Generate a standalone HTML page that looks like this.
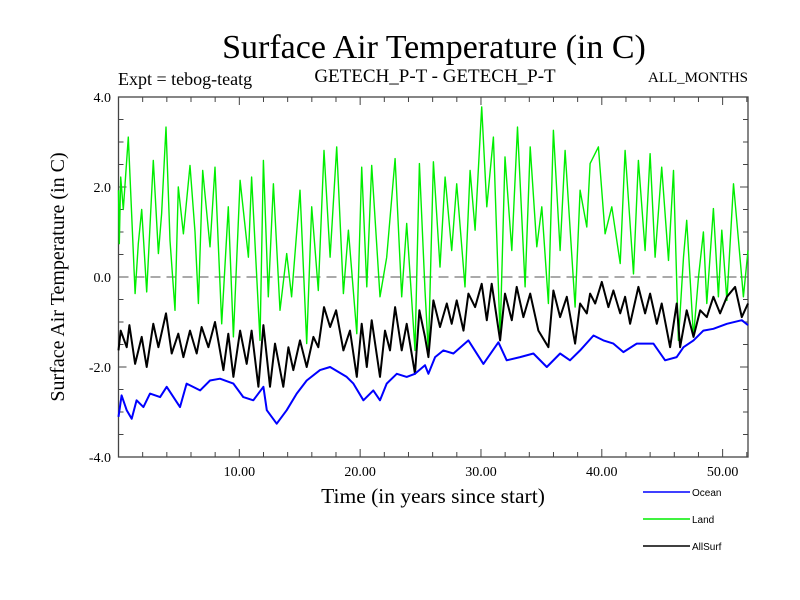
<!DOCTYPE html>
<html><head><meta charset="utf-8"><style>
body{margin:0;background:#fff;}
svg{display:block;font-family:"Liberation Serif",serif;}
</style></head><body>
<svg id="chart" width="800" height="600" xmlns="http://www.w3.org/2000/svg">
<text x="434" y="58" font-size="34" text-anchor="middle">Surface Air Temperature (in C)</text>
<text x="118" y="85" font-size="18">Expt = tebog-teatg</text>
<text x="435" y="82" font-size="19" text-anchor="middle">GETECH_P-T - GETECH_P-T</text>
<text x="748" y="82" font-size="15" text-anchor="end">ALL_MONTHS</text>
<text transform="translate(64,277) rotate(-90)" font-size="20" text-anchor="middle">Surface Air Temperature (in C)</text>
<text x="433" y="503" font-size="21.5" text-anchor="middle">Time (in years since start)</text>
<g id="axes"></g>
<g id="series"></g>
<g id="legend"></g>
</svg>
<script>
const oceanT=[0,0.26,0.68,1.09,1.5,2.06,2.61,3.44,3.99,5.09,5.64,6.75,7.57,8.4,9.51,10.33,11.16,11.99,12.27,13.09,13.92,14.75,15.58,16.68,17.51,18.89,19.44,20.27,21.09,21.64,22.2,23.03,23.85,24.54,25.37,25.65,26.2,26.89,27.72,28.96,30.2,31.44,32.13,33.24,34.34,35.45,36.55,37.37,38.2,39.31,40.13,40.96,41.79,42.9,44.27,45.24,46.2,46.76,47.59,48.41,49.24,50.35,51.59,52.1];
const oceanV=[-3.11,-2.63,-2.96,-3.15,-2.74,-2.89,-2.59,-2.67,-2.44,-2.89,-2.37,-2.52,-2.3,-2.26,-2.37,-2.67,-2.74,-2.44,-2.96,-3.26,-2.96,-2.59,-2.3,-2.07,-2.0,-2.22,-2.37,-2.74,-2.52,-2.74,-2.37,-2.15,-2.22,-2.15,-1.96,-2.15,-1.78,-1.63,-1.7,-1.41,-1.93,-1.45,-1.85,-1.78,-1.7,-2.0,-1.7,-1.85,-1.63,-1.3,-1.41,-1.48,-1.67,-1.48,-1.48,-1.85,-1.78,-1.56,-1.41,-1.19,-1.15,-1.04,-0.96,-1.07];
const landT=[0,0.07,0.18,0.4,0.81,1.37,1.64,1.92,2.33,2.88,3.3,3.57,3.93,4.26,4.68,4.95,5.37,5.92,6.33,6.61,6.97,7.57,7.99,8.54,9.09,9.51,10.06,10.75,11.02,11.71,11.99,12.4,12.82,13.37,13.92,14.33,15.02,15.58,15.99,16.54,17.01,17.51,18.06,18.61,19.03,19.72,20.13,20.55,20.96,21.64,22.2,22.89,23.44,23.85,24.54,24.9,25.37,25.65,26.06,26.61,27.03,27.58,27.99,28.68,29.1,29.51,30.06,30.48,31.03,31.58,31.99,32.55,33.02,33.65,34.07,34.62,35.03,35.58,35.99,36.55,36.96,37.79,38.2,38.76,39.03,39.72,40.27,40.83,41.52,41.93,42.62,43.03,43.58,44.0,44.41,44.96,45.52,45.93,46.34,46.76,47.03,47.59,48.0,48.41,48.69,49.24,49.65,49.93,50.35,50.9,51.31,51.72,52.1];
const landV=[1.93,0.74,2.22,1.5,3.11,-0.37,0.74,1.5,-0.33,2.59,0.52,1.4,3.33,0.81,-0.74,2.0,0.96,2.48,1.0,-0.59,2.37,0.67,2.44,-1.04,1.56,-1.33,2.15,0.44,2.22,-1.41,2.59,-0.44,2.07,-0.74,0.52,-0.44,1.93,-1.48,1.56,-0.3,2.81,0.44,2.89,-0.37,1.04,-1.26,2.44,-0.22,2.48,-0.44,0.44,2.63,-0.44,1.19,-1.63,2.52,-0.3,-1.7,2.56,0.22,2.22,0.59,2.07,-0.22,2.37,1.04,3.78,1.56,3.11,-1.33,2.67,0.59,3.33,-0.22,2.89,0.67,1.56,-0.59,3.26,0.59,2.81,-0.67,1.93,1.11,2.52,2.89,0.96,1.56,0.3,2.81,0.07,2.59,0.59,2.74,0.44,2.44,0.37,2.37,-1.41,0.44,1.26,-1.33,0.0,1.0,-0.59,1.52,-0.44,1.04,-0.52,2.07,0.81,-0.44,0.59];
const allT=[0,0.18,0.68,0.9,1.37,1.92,2.33,2.88,3.3,3.93,4.4,4.95,5.37,5.92,6.47,6.88,7.44,7.99,8.68,9.09,9.51,10.06,10.61,11.02,11.58,11.99,12.54,12.95,13.64,14.06,14.47,15.02,15.58,16.13,16.54,17.01,17.51,18.01,18.61,19.16,19.72,20.13,20.55,20.96,21.64,22.06,22.47,22.89,23.44,23.85,24.54,24.9,25.37,25.65,26.06,26.61,27.17,27.58,27.99,28.55,28.96,29.51,30.06,30.48,30.89,31.58,31.99,32.55,32.96,33.51,34.07,34.75,35.58,35.99,36.55,37.1,37.79,38.2,38.76,39.03,39.45,40.0,40.55,40.96,41.52,41.93,42.34,43.03,43.58,44.0,44.55,44.96,45.65,46.2,46.48,47.03,47.59,48.14,48.69,49.24,49.79,50.35,51.03,51.59,52.1];
const allV=[-1.63,-1.19,-1.56,-1.07,-1.93,-1.33,-2.0,-1.04,-1.56,-0.81,-1.7,-1.26,-1.78,-1.19,-1.7,-1.11,-1.56,-1.0,-2.07,-1.26,-2.22,-1.19,-1.93,-1.19,-2.44,-1.07,-2.44,-1.48,-2.44,-1.56,-2.07,-1.41,-2.0,-1.33,-1.56,-0.67,-1.11,-0.74,-1.63,-1.19,-2.22,-1.04,-2.0,-0.96,-2.22,-1.19,-1.63,-0.67,-1.63,-1.04,-2.15,-0.74,-1.33,-1.78,-0.52,-1.11,-0.59,-1.04,-0.52,-1.19,-0.37,-0.67,-0.15,-0.96,-0.15,-1.41,-0.37,-0.96,-0.22,-0.89,-0.37,-1.19,-1.56,-0.3,-0.89,-0.44,-1.48,-0.59,-0.81,-0.37,-0.59,-0.11,-0.67,-0.3,-0.81,-0.44,-1.04,-0.22,-0.81,-0.37,-1.04,-0.59,-1.56,-0.59,-1.56,-0.74,-1.33,-0.74,-0.89,-0.44,-0.81,-0.44,-0.22,-0.89,-0.59];
const xTickLabels=["10.00","20.00","30.00","40.00","50.00"];
const yTickLabels=["-4.0","-2.0","0.0","2.0","4.0"];

const L=118.5,R=748,T=97,B=457,X0=0,X1=52.1,Y0=-4,Y1=4;
const xs=v=>L+(v-X0)/(X1-X0)*(R-L);
const ys=v=>B-(v-Y0)/(Y1-Y0)*(B-T);
const NS="http://www.w3.org/2000/svg";
function mk(tag,attrs,parent){const e=document.createElementNS(NS,tag);for(const k in attrs)e.setAttribute(k,attrs[k]);parent.appendChild(e);return e;}
const ax=document.getElementById('axes');
const frame=mk('rect',{x:L,y:T,width:R-L,height:B-T,fill:'none',stroke:'#444','stroke-width':1.3},ax);


let td='';
for(let t=2;t<X1;t+=2){const x=xs(t);const len=(t%10===0)?8:5;td+=`M${x},${B}v${-len}M${x},${T}v${len}`;}
for(let v=-3.5;v<4;v+=0.5){const y=ys(v);const len=(v%2===0)?8:5;td+=`M${L},${y}h${len}M${R},${y}h${-len}`;}
const ticks=mk('path',{d:td,stroke:'#444','stroke-width':1,fill:'none'},ax);


xTickLabels.forEach(s=>{const t=mk('text',{x:xs(parseFloat(s)),y:476,'font-size':14,'text-anchor':'middle'},ax);t.textContent=s;

});
yTickLabels.forEach(s=>{const t=mk('text',{x:111,y:ys(parseFloat(s))+5,'font-size':14,'text-anchor':'end'},ax);t.textContent=s;

});
const zero=mk('line',{x1:L,x2:R,y1:ys(0),y2:ys(0),stroke:'#555','stroke-dasharray':'10,6','stroke-width':1},ax);


const sg=document.getElementById('series');
function line(tArr,vArr,color,w,name){const d=tArr.map((t,i)=>(i?'L':'M')+xs(t).toFixed(1)+','+ys(vArr[i]).toFixed(1)).join('');
const p=mk('path',{d:d,stroke:color,'stroke-width':w,fill:'none','stroke-linejoin':'round'},sg);

}
line(landT,landV,'#00ee00',1.4,'land-line');
line(allT,allV,'#000',2,'allsurf-line');
line(oceanT,oceanV,'#0000ff',2,'ocean-line');
const lg=document.getElementById('legend');
[['Ocean','#0000ff',492],['Land','#00ee00',519],['AllSurf','#000',546]].forEach(([n,c,y])=>{
const l=mk('line',{x1:643,x2:690,y1:y,y2:y,stroke:c,'stroke-width':1.5},lg);


const t=mk('text',{x:692,y:y+4,'font-size':10,'font-family':'Liberation Sans, sans-serif'},lg);t.textContent=n;

});
</script>
</body></html>
